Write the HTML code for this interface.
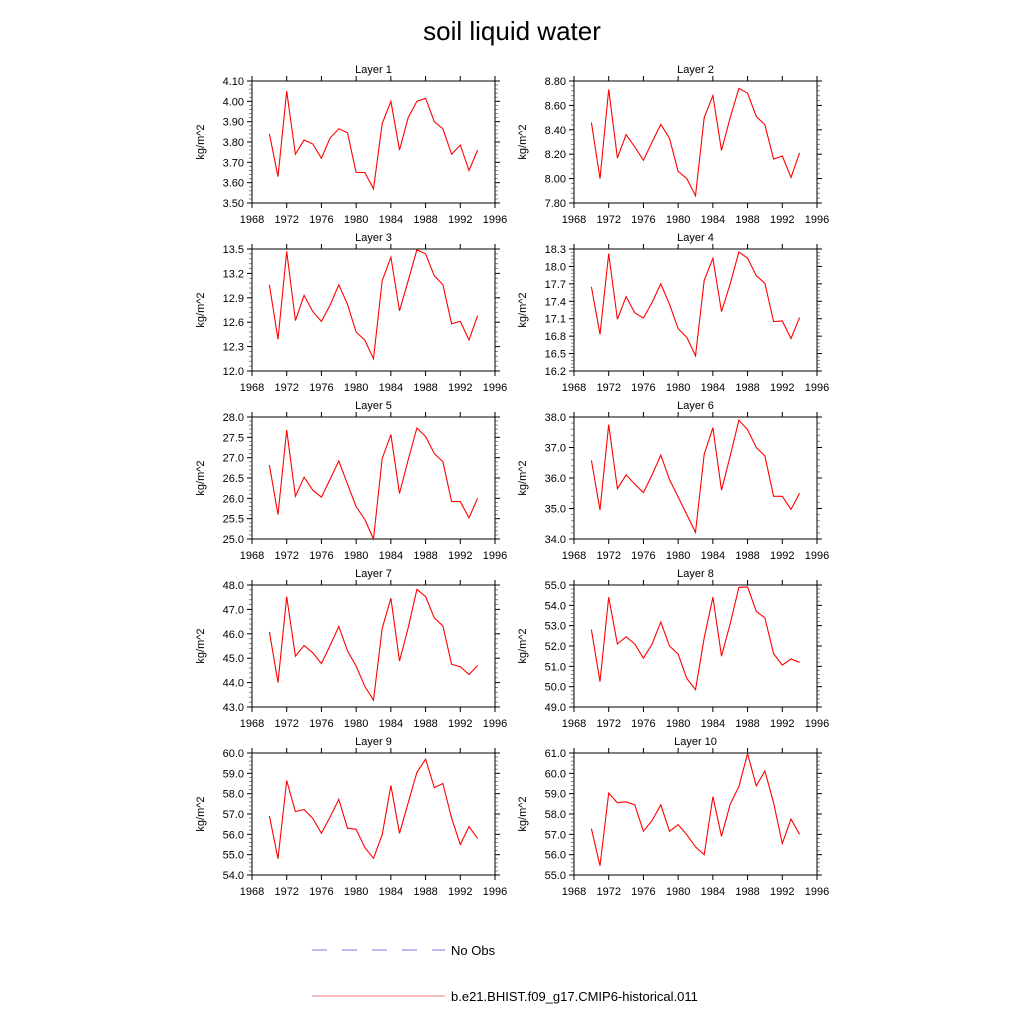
<!DOCTYPE html>
<html><head><meta charset="utf-8"><style>
html,body{margin:0;padding:0;background:#fff;}
svg{display:block;font-family:"Liberation Sans",Arial,sans-serif;}
</style></head><body>
<svg id="c" width="1024" height="1024" viewBox="0 0 1024 1024">
<text x="512" y="40" text-anchor="middle" font-size="26">soil liquid water</text>
<g>
<line x1="312" y1="950" x2="445" y2="950" stroke="#7777ee" stroke-width="1" stroke-dasharray="15,15"/>
<text x="451" y="955" font-size="13">No Obs</text>
<line x1="312" y1="996" x2="445" y2="996" stroke="#f08080" stroke-width="1"/>
<text x="451" y="1001" font-size="13">b.e21.BHIST.f09_g17.CMIP6-historical.011</text>
</g>
</svg>
<script>
const years=[1970,1971,1972,1973,1974,1975,1976,1977,1978,1979,1980,1981,1982,1983,1984,1985,1986,1987,1988,1989,1990,1991,1992,1993,1994];
const xTicks=[1968,1972,1976,1980,1984,1988,1992,1996];
const layer1=[3.84,3.63,4.05,3.74,3.81,3.79,3.72,3.82,3.865,3.845,3.65,3.65,3.57,3.89,4.0,3.76,3.92,4.0,4.015,3.90,3.865,3.74,3.785,3.66,3.76];
const layer2=[8.46,8.00,8.73,8.17,8.36,8.26,8.15,8.30,8.445,8.33,8.06,8.00,7.86,8.50,8.68,8.23,8.50,8.74,8.70,8.51,8.44,8.16,8.185,8.01,8.21];
const layer3=[13.06,12.39,13.47,12.62,12.93,12.73,12.61,12.81,13.06,12.82,12.48,12.38,12.15,13.11,13.40,12.74,13.11,13.49,13.44,13.17,13.06,12.58,12.61,12.38,12.68];
const layer4=[17.65,16.83,18.22,17.09,17.48,17.20,17.11,17.38,17.70,17.35,16.93,16.78,16.46,17.76,18.14,17.22,17.70,18.25,18.14,17.84,17.71,17.05,17.06,16.76,17.12];
const layer5=[26.82,25.60,27.68,26.05,26.52,26.20,26.03,26.47,26.92,26.35,25.80,25.48,25.00,26.98,27.57,26.12,26.95,27.73,27.52,27.10,26.90,25.92,25.92,25.52,26.00];
const layer6=[36.58,34.95,37.75,35.65,36.10,35.80,35.52,36.10,36.75,35.95,35.38,34.80,34.22,36.78,37.65,35.60,36.72,37.90,37.58,37.00,36.72,35.40,35.40,34.97,35.50];
const layer7=[46.08,44.0,47.52,45.08,45.52,45.22,44.78,45.52,46.30,45.30,44.68,43.85,43.28,46.22,47.46,44.88,46.25,47.82,47.53,46.65,46.32,44.75,44.65,44.33,44.70];
const layer8=[52.80,50.25,54.40,52.10,52.45,52.10,51.40,52.10,53.18,52.00,51.60,50.40,49.85,52.40,54.40,51.50,53.10,54.88,54.90,53.70,53.38,51.62,51.06,51.36,51.20];
const layer9=[56.90,54.80,58.65,57.12,57.22,56.78,56.05,56.85,57.72,56.30,56.25,55.35,54.82,55.98,58.40,56.05,57.55,59.05,59.70,58.30,58.50,56.80,55.50,56.38,55.80];
const layer10=[57.28,55.45,59.03,58.55,58.60,58.45,57.15,57.68,58.45,57.15,57.48,56.98,56.38,56.00,58.85,56.90,58.48,59.35,60.97,59.38,60.12,58.55,56.55,57.75,57.00];
const yTicks1=["3.50","3.60","3.70","3.80","3.90","4.00","4.10"];
const yTicks2=["7.80","8.00","8.20","8.40","8.60","8.80"];
const yTicks3=["12.0","12.3","12.6","12.9","13.2","13.5"];
const yTicks4=["16.2","16.5","16.8","17.1","17.4","17.7","18.0","18.3"];
const yTicks5=["25.0","25.5","26.0","26.5","27.0","27.5","28.0"];
const yTicks6=["34.0","35.0","36.0","37.0","38.0"];
const yTicks7=["43.0","44.0","45.0","46.0","47.0","48.0"];
const yTicks8=["49.0","50.0","51.0","52.0","53.0","54.0","55.0"];
const yTicks9=["54.0","55.0","56.0","57.0","58.0","59.0","60.0"];
const yTicks10=["55.0","56.0","57.0","58.0","59.0","60.0","61.0"];
const series=[layer1,layer2,layer3,layer4,layer5,layer6,layer7,layer8,layer9,layer10];
const ticks=[yTicks1,yTicks2,yTicks3,yTicks4,yTicks5,yTicks6,yTicks7,yTicks8,yTicks9,yTicks10];
const NS="http://www.w3.org/2000/svg";
const svg=document.getElementById('c');
function mk(tag,attrs,parent){const e=document.createElementNS(NS,tag);for(const k in attrs)e.setAttribute(k,attrs[k]);parent.appendChild(e);return e;}
for(let i=0;i<10;i++){
  const col=i%2,row=Math.floor(i/2);
  const L=col?574:252,R=col?817:495,T=81+row*168,B=203+row*168;
  const tv=ticks[i].map(Number);const y0=tv[0],y1=tv[tv.length-1];
  const xs=v=>L+(v-1968)/(1996-1968)*(R-L);
  const ys=v=>B-(v-y0)/(y1-y0)*(B-T);
  const g=mk('g',{},svg);
  
  
  const t=mk('text',{x:(L+R)/2,y:T-8,'text-anchor':'middle','font-size':11},g);t.textContent='Layer '+(i+1);
  
  
  const yl=mk('text',{x:0,y:0,'text-anchor':'middle','font-size':11,transform:`translate(${L-48},${(T+B)/2}) rotate(-90)`},g);yl.textContent='kg/m^2';
  
  
  // minor y ticks
  const step=tv[1]-tv[0];
  for(let k=0;k<tv.length-1;k++)for(let m=1;m<5;m++){const yy=ys(tv[k]+step*m/5);
    mk('line',{x1:L-3,x2:L,y1:yy,y2:yy,stroke:'#888','stroke-width':1},g);
    mk('line',{x1:R,x2:R+3,y1:yy,y2:yy,stroke:'#888','stroke-width':1},g);}
  ticks[i].forEach((lab,k)=>{const yy=ys(tv[k]);
    mk('line',{x1:L-5,x2:L,y1:yy,y2:yy,stroke:'#000','stroke-width':1},g);
    mk('line',{x1:R,x2:R+5,y1:yy,y2:yy,stroke:'#000','stroke-width':1},g);
    const tx=mk('text',{x:L-8,y:yy+4,'text-anchor':'end','font-size':11},g);tx.textContent=lab;
    
    });
  xTicks.forEach(v=>{const xx=xs(v);
    mk('line',{x1:xx,x2:xx,y1:B,y2:B+5,stroke:'#000','stroke-width':1},g);
    mk('line',{x1:xx,x2:xx,y1:T-5,y2:T,stroke:'#000','stroke-width':1},g);
    const tx=mk('text',{x:xx,y:B+20,'text-anchor':'middle','font-size':11},g);tx.textContent=v;
    
    });
  const fr=mk('rect',{x:L,y:T,width:R-L,height:B-T,fill:'none',stroke:'#000','stroke-width':1},g);
  
  
  const pts=series[i].map((v,k)=>xs(years[k]).toFixed(1)+','+ys(v).toFixed(1)).join(' ');
  const pl=mk('polyline',{points:pts,fill:'none',stroke:'#ff0000','stroke-width':1.1},g);
  
  
}
</script>
</body></html>
